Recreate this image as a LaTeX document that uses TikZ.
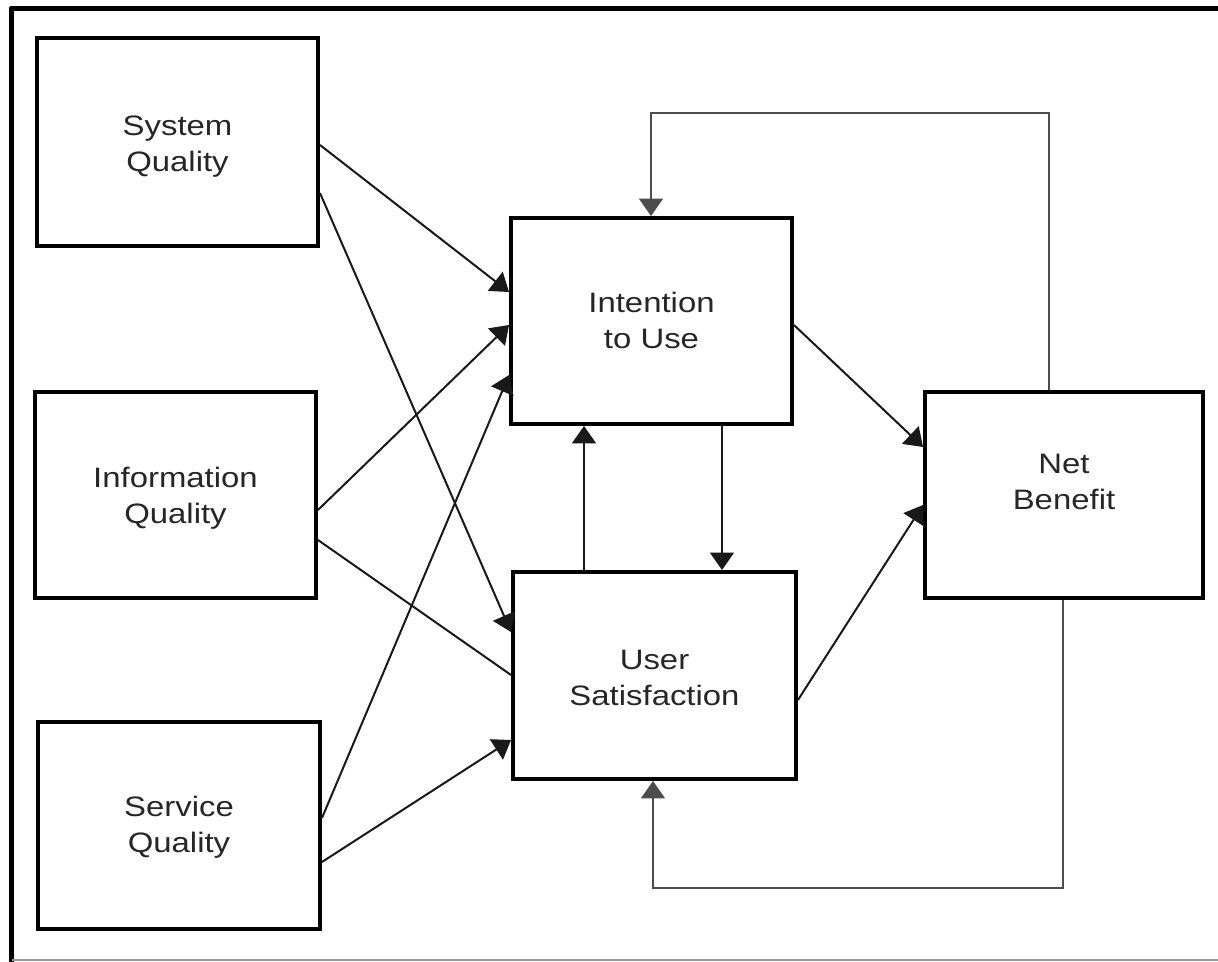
\documentclass[tikz,border=0pt]{standalone}
\usepackage{fontspec}
\setmainfont{Liberation Sans}
\usetikzlibrary{arrows.meta}
\newcommand\boxlabel[2]{\scalebox{1.17}[1]{\begin{tabular}{@{}c@{}}#1\\#2\end{tabular}}}
\begin{document}
\begin{tikzpicture}[x=0.02cm,y=-0.02cm,
  box/.style={draw=black, line width=0.08cm, fill=white, inner sep=0pt},
  boxtext/.style={font=\fontsize{16}{20.5}\selectfont, text=black!85, inner sep=0pt},
  conn/.style={draw=black!90, line width=0.04cm,
    -{Triangle[length=0.35cm,width=0.48cm]}},
  plain/.style={draw=black!90, line width=0.04cm},
  fb/.style={draw=black!70, line width=0.035cm,
    -{Triangle[length=0.35cm,width=0.48cm]}}]
\useasboundingbox (0,0) rectangle (1218,962);
% frame
\fill[white] (0,0) rectangle (1218,962);
\draw[line width=0.1cm] (10,9) -- (1218,9);
\draw[line width=0.09cm] (11.5,7) -- (11.5,962);
\draw[black!40, line width=0.03cm] (12,960) -- (1218,960);

% constructs
\node[box, minimum width=5.62cm, minimum height=4.16cm,
  label={[boxtext, yshift=-2.5pt]center:\boxlabel{System}{Quality}}] (sq) at (177.5,142) {};
\node[box, minimum width=5.62cm, minimum height=4.12cm,
  label={[boxtext, yshift=-2pt]center:\boxlabel{Information}{Quality}}] (iq) at (175.5,495) {};
\node[box, minimum width=5.64cm, minimum height=4.14cm,
  label={[boxtext, yshift=-1pt]center:\boxlabel{Service}{Quality}}] (svq) at (179,825.5) {};
\node[box, minimum width=5.62cm, minimum height=4.12cm,
  label={[boxtext, yshift=-1.5pt]center:\boxlabel{Intention}{to Use}}] (iu) at (651.5,321) {};
\node[box, minimum width=5.66cm, minimum height=4.14cm,
  label={[boxtext, yshift=-3pt]center:\boxlabel{User}{Satisfaction}}] (us) at (654.5,675.5) {};
\node[box, minimum width=5.56cm, minimum height=4.12cm,
  label={[boxtext, yshift=6pt]center:\boxlabel{Net}{Benefit}}] (nb) at (1064,495) {};

% paths between constructs
\draw[conn] (sq.east |- 0,145) -- (iu.west |- 0,292);
\draw[conn] (sq.east |- 0,193) -- (us.west |- 0,632);
\draw[conn] (iq.east |- 0,510) -- (iu.west |- 0,325);
\draw[plain] (iq.east |- 0,540) -- (us.west |- 0,675);
\draw[conn] (svq.east |- 0,818) -- (iu.west |- 0,375);
\draw[conn] (svq.east |- 0,862) -- (us.west |- 0,740);
\draw[conn] (iu.east |- 0,325) -- (nb.west |- 0,447);
\draw[conn] (us.east |- 0,700) -- (nb.west |- 0,505);
\draw[conn] (us.north -| 584,0) -- (iu.south -| 584,0);
\draw[conn] (iu.south -| 722,0) -- (us.north -| 722,0);

% feedback loops
\coordinate (t1) at (1049,113);
\coordinate (t2) at (651,113);
\draw[fb] (nb.north -| t1) -- (t1) -- (t2) -- (iu.north -| t2);
\coordinate (b1) at (1063,888);
\coordinate (b2) at (653,888);
\draw[fb] (nb.south -| b1) -- (b1) -- (b2) -- (us.south -| b2);
\end{tikzpicture}
\end{document}
